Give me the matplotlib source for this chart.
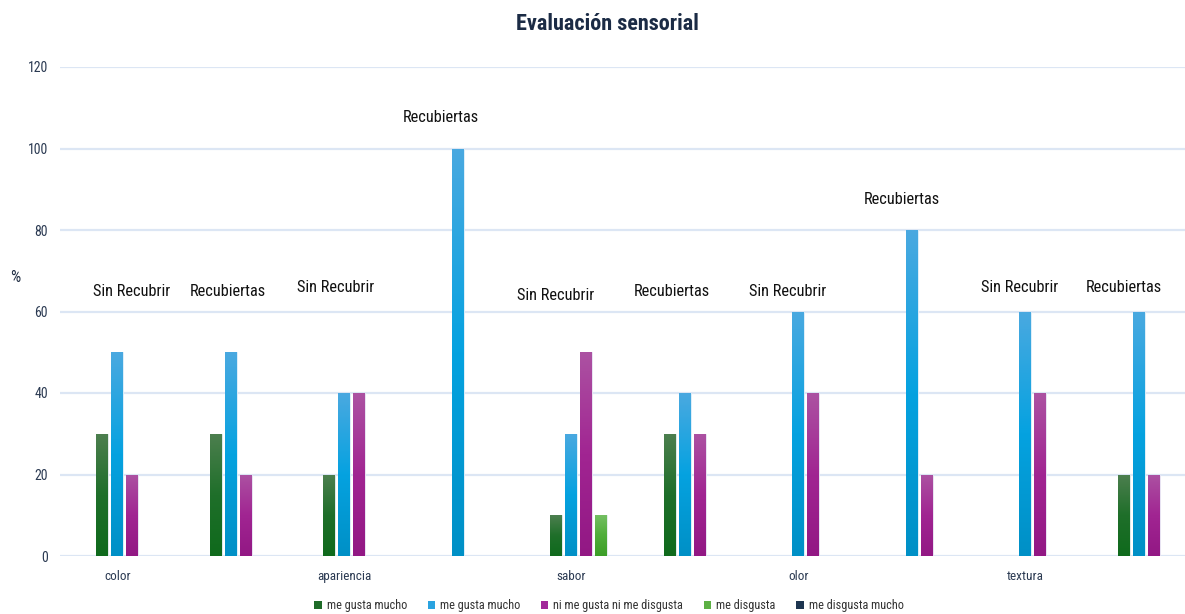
import numpy as np
import matplotlib
matplotlib.use("Agg")
import matplotlib.pyplot as plt
from matplotlib import font_manager
from matplotlib.colors import LinearSegmentedColormap
from matplotlib.patches import Patch

# ---- data -------------------------------------------------------------
categories = ["color", "apariencia", "sabor", "olor", "textura"]
treatments = ["Sin Recubrir", "Recubiertas"]
series_names = ["me gusta mucho", "me gusta mucho", "ni me gusta ni me disgusta",
                "me disgusta", "me disgusta mucho"]

# one value per (category, treatment) group, in drawing order
me_gusta_mucho_1 = [30, 30, 20, 0, 10, 30, 0, 0, 0, 20]
me_gusta_mucho_2 = [50, 50, 40, 100, 30, 40, 60, 80, 60, 60]
ni_me_gusta = [20, 20, 40, 0, 50, 30, 40, 20, 40, 20]
me_disgusta = [0, 0, 0, 0, 10, 0, 0, 0, 0, 0]
me_disgusta_mucho = [0, 0, 0, 0, 0, 0, 0, 0, 0, 0]

y_ticks = [0, 20, 40, 60, 80, 100, 120]

# ---- fonts: prefer a narrow sans face ---------------------------------
fonts = font_manager.fontManager.ttflist
names = {f.name for f in fonts}
narrow_scale = 1.0
if "Roboto Condensed" in names:
    base_font = "Roboto Condensed"
elif "Liberation Sans Narrow" in names:
    base_font = "Liberation Sans Narrow"
else:
    base_font = "Roboto"
    narrow_scale = 0.85
plt.rcParams["font.family"] = [base_font, "DejaVu Sans"]

def fs(size):
    return size * narrow_scale

# (top, middle, bottom) colours of each series' vertical gradient
gradients = [
    ("#4d7f4f", "#1f6f2a", "#0f6a1c"),
    ("#4aa9e0", "#05a2e0", "#0090c6"),
    ("#ac52a2", "#a12592", "#921884"),
    ("#74bf62", "#4fae3a", "#3c9e27"),
    ("#3a5675", "#223b5a", "#142a45"),
]
legend_colors = ["#1e6b28", "#2aa3e0", "#a2299a", "#5cb044", "#1d3550"]

W, H = 1185, 614
fig = plt.figure(figsize=(W / 100, H / 100), dpi=100)

left_px, y0_px, y120_px = 60.5, 556, 67
group_px = 113.5
ax = fig.add_axes([left_px / W, (H - y0_px) / H, 1 - left_px / W, (y0_px - y120_px) / H])

n_groups = len(me_gusta_mucho_1)
centers = np.arange(n_groups)
slot = 15 / group_px
bar_w = 12 / group_px

series = [me_gusta_mucho_1, me_gusta_mucho_2, ni_me_gusta, me_disgusta, me_disgusta_mucho]
xlim = (-0.5, -0.5 + (W - left_px) / group_px)

for k, vals in enumerate(series):
    xs = centers + (k - 1) * slot
    bars = ax.bar(xs, vals, width=bar_w, color=gradients[k][1],
                  edgecolor="#eef4fb", linewidth=0.6, zorder=3)
    cmap = LinearSegmentedColormap.from_list(f"g{k}", gradients[k])
    grad = np.linspace(0, 1, 256).reshape(-1, 1)
    for b, v in zip(bars, vals):
        if v <= 0:
            continue
        x0 = b.get_x()
        im = ax.imshow(grad, extent=[x0, x0 + bar_w, 0, v], aspect="auto",
                       cmap=cmap, origin="upper", zorder=3.5, interpolation="bilinear")
        im.set_clip_path(b)

ax.set_xlim(*xlim)
ax.set_ylim(0, 120)

# grid and axes
ax.set_yticks(y_ticks)
ax.yaxis.grid(True, color="#dce6f4", linewidth=1.6, zorder=0)
ax.set_axisbelow(True)
for s in ax.spines.values():
    s.set_visible(False)
ax.tick_params(axis="y", length=0, pad=9, labelsize=fs(10), labelcolor="#2b3a52")
ax.tick_params(axis="x", length=0, pad=10, labelsize=fs(9.5), labelcolor="#2b3a52")
ax.set_xticks(centers[::2])
ax.set_xticklabels(categories)

# treatment labels above each group
label_dx = [14.6, -2.5, -9, -17, -16, -13, -11, -9.5, -5.6, -15]
label_dy = [0, 0, 1, 0, -1, 0, 0, 0, 1, 1]
for i in range(n_groups):
    top = max(s[i] for s in series)
    ytxt = (65 if top < 65 else top + 7.5) + label_dy[i]
    ax.text(centers[i] + label_dx[i] / group_px, ytxt, treatments[i % 2],
            ha="center", va="center", fontsize=fs(11.8), color="#111111", zorder=5)

fig.text(15 / W, 1 - 278 / H, "%", ha="center", va="center", fontsize=fs(11.5), color="#1c2a40")
fig.text(607 / W, 1 - 24 / H, "Evaluación sensorial", ha="center", va="center",
         fontsize=fs(16), fontweight="bold", color="#1b2b45")

handles = [Patch(facecolor=c, edgecolor="none") for c in legend_colors]
fig.legend(handles, series_names, loc="center", bbox_to_anchor=(609 / W, 1 - 606 / H),
           ncol=5, frameon=False, fontsize=fs(8.8), handlelength=0.6, handleheight=0.6,
           handletextpad=0.4, columnspacing=1.7, labelcolor="#333333")

fig.savefig("out.png", dpi=100)
